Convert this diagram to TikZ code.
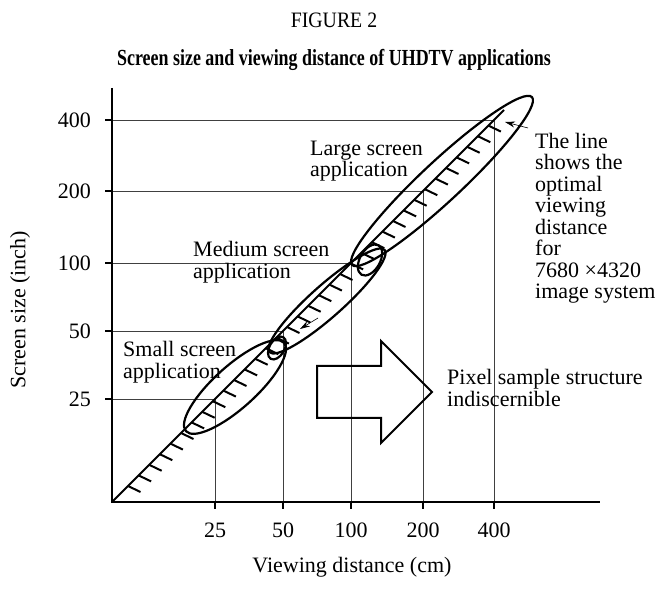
\documentclass[tikz,border=0pt]{standalone}
\usepackage{fontspec}
\setmainfont{Liberation Serif}
\usetikzlibrary{arrows.meta}
\begin{document}
\begin{tikzpicture}[x=1pt,y=1pt,
  txt/.style={font=\fontsize{22}{21.5}\selectfont, inner sep=0pt, align=left},
  gridline/.style={line width=0.8pt, draw=black!75},
  axisline/.style={line width=2pt},
  tickline/.style={line width=1.5pt},
  ell/.style={line width=2.2pt},
  hatchline/.style={line width=2pt},
  ptr/.style={line width=0.6pt, -{Stealth[length=10pt,width=6pt]}},
  blk/.style={line width=2pt, line join=miter}]
\useasboundingbox (0,0) rectangle (668,588);

% titles
\node[font=\fontsize{22}{24}\selectfont, inner sep=0pt] (fig) at (334,568) {\scalebox{0.9}[1]{FIGURE 2}};
\node[font=\bfseries\fontsize{23}{24}\selectfont, inner sep=0pt] (title) at (334,528)
  {\scalebox{0.78}[1]{Screen size and viewing distance of UHDTV applications}};

% grid lines, ticks, labels
\foreach \d/\lab in {103/25,171/50,239/100,311/200,382/400}{
  \coordinate (p\lab) at (112+\d,86+\d);
  \coordinate (yg\lab) at (112,86+\d);
  \coordinate (xg\lab) at (112+\d,86);
  \draw[gridline] (yg\lab) -- (p\lab) -- (xg\lab);
  \draw[tickline] (yg\lab) -- ++(-7,0);
  \draw[tickline] (xg\lab) -- ++(0,-7);
  \node[txt, anchor=east] (yl\lab) at (91,86+\d) {\lab};
  \node[txt] (xl\lab) at (112+\d,58) {\lab};
}

% axes
\coordinate (O) at (112,86);
\coordinate (ytop) at (112,500);
\coordinate (xend) at (600,86);
\draw[axisline] (ytop) -- (O) -- (xend);

% axis titles
\node[txt] (xtitle) at (352,21) {Viewing distance (cm)};
\node[txt, rotate=90] (ytitle) at (20,278) {Screen size (inch)};

% diagonal with hatching
\coordinate (dtop) at (504,478);
\draw[line width=1.8pt] (O) -- (dtop);
\foreach \d in {16,26.6,...,386}{
  \draw[hatchline] (112+\d,86+\d) -- ++(12.5,-6);
}

% ellipses
\draw[ell, rotate around={42:(235,201)}] (235,201) ellipse (66 and 21);
\draw[ell, rotate around={41.6:(327,287)}] (327,287) ellipse (77 and 16);
\draw[ell, rotate around={43:(442,407)}] (442,407) ellipse (123 and 20);
\draw[ell, rotate around={60:(277,240)}] (277,240) ellipse (12.5 and 7.5);
\draw[ell, rotate around={60:(370,328)}] (370,328) ellipse (17 and 10);

% labels
\node[txt, anchor=west] (large) at (310,427) {Large screen\\application};
\node[txt, anchor=west] (medium) at (193,326) {Medium screen\\application};
\node[txt, anchor=west] (small) at (123,226) {Small screen\\application};
\node[txt, anchor=west] (note) at (535,370) {The line\\shows the\\optimal\\viewing\\distance\\for\\7680 ×4320\\image system};
\node[txt, anchor=west] (pixel) at (447,200) {Pixel sample structure\\indiscernible};

% pointer arrows
\coordinate (a1t) at (528,460);
\coordinate (a1h) at (505,466);
\draw[ptr] (a1t) -- (a1h);
\coordinate (a2t) at (318,270);
\coordinate (a2h) at (300,259);
\draw[ptr] (a2t) -- (a2h);

% block arrow
\draw[blk] (317,222) -- (381,222) -- (381,247) -- (432,196) -- (381,145) -- (381,170) -- (317,170) -- cycle;
\end{tikzpicture}
\end{document}
